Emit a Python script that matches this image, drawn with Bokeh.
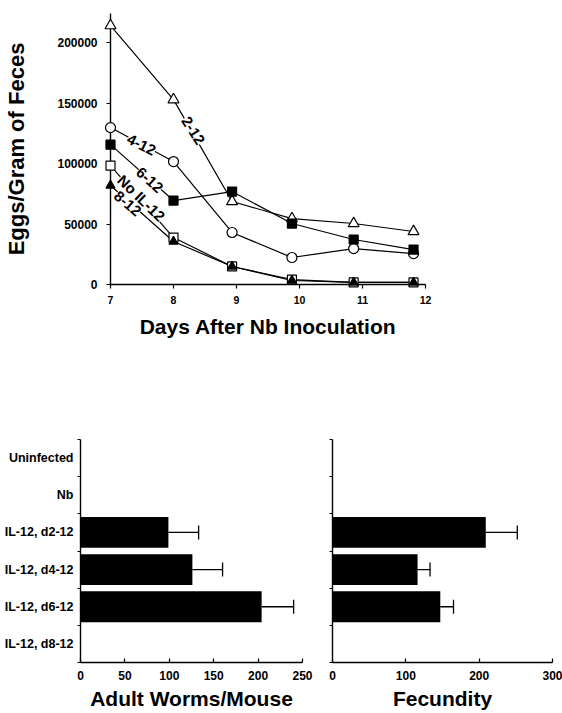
from bokeh.plotting import figure
from bokeh.layouts import column, row
from bokeh.models import (ColumnDataSource, FixedTicker, BasicTickFormatter, Label,
                          Whisker, TeeHead, Range1d)
from bokeh.embed import file_html
from bokeh.resources import INLINE

FONT = "Liberation Sans"

# ---------------- data ----------------
days = [7, 8, 8.93, 9.88, 10.86, 11.81]
eggs_2_12 = [214000, 152800, 68600, 54500, 50400, 43800]
eggs_4_12 = [129700, 101600, 43000, 22300, 29700, 25600]
eggs_6_12 = [115600, 69400, 76800, 50400, 37200, 28900]
eggs_no_il12 = [98300, 38800, 14900, 4100, 1700, 1700]
eggs_8_12 = [81800, 35500, 14900, 3300, 1700, 1700]
series_labels = ["2-12", "4-12", "6-12", "No IL-12", "8-12"]

day_ticks = [7, 8, 9, 10, 11, 12]
egg_ticks = [0, 50000, 100000, 150000, 200000]

groups = ["Uninfected", "Nb", "IL-12, d2-12", "IL-12, d4-12",
          "IL-12, d6-12", "IL-12, d8-12"]
worms = [0, 0, 99, 126, 204, 0]
worms_err = [0, 0, 34, 34, 36, 0]
fecundity = [0, 0, 209, 116, 147, 0]
fecundity_err = [0, 0, 43, 17, 18, 0]
worm_ticks = [0, 50, 100, 150, 200, 250]
fec_ticks = [0, 100, 200, 300]


def style_axis(ax, tick_size, label_size="21px"):
    ax.axis_line_color = "black"
    ax.axis_line_width = 1.4
    ax.major_tick_line_color = "black"
    ax.major_tick_line_width = 1.2
    ax.minor_tick_line_color = None
    ax.major_label_text_font = FONT
    ax.major_label_text_font_style = "bold"
    ax.major_label_text_font_size = tick_size
    ax.major_label_text_color = "black"
    ax.axis_label_text_font = FONT
    ax.axis_label_text_font_style = "bold"
    ax.axis_label_text_font_size = label_size
    ax.axis_label_text_color = "black"


# ---------------- top: eggs per gram ----------------
top = figure(width=562, height=346, x_range=Range1d(7, 12), y_range=Range1d(0, 224000),
             output_backend="svg", toolbar_location=None,
             min_border_left=110, min_border_right=137, min_border_top=13,
             min_border_bottom=62)
top.outline_line_color = None
top.grid.visible = False

xa = top.xaxis[0]
style_axis(xa, "10.5px")
xa.ticker = FixedTicker(ticks=day_ticks)
xa.major_tick_out = 4
xa.major_tick_in = 0
xa.major_label_standoff = 7
xa.axis_label = "Days After Nb Inoculation"
xa.axis_label_standoff = 8

ya = top.yaxis[0]
style_axis(ya, "12px", "22px")
ya.ticker = FixedTicker(ticks=egg_ticks)
ya.formatter = BasicTickFormatter(use_scientific=False)
ya.major_tick_out = 4
ya.major_tick_in = 0
ya.major_label_standoff = 9
ya.axis_label = "Eggs/Gram of Feces"
ya.axis_label_standoff = 25

src = ColumnDataSource(dict(day=days, s2=eggs_2_12, s4=eggs_4_12, s6=eggs_6_12,
                            sn=eggs_no_il12, s8=eggs_8_12))
for col in ["s2", "s4", "s6", "sn", "s8"]:
    top.line("day", col, source=src, line_color="black", line_width=1.2)

top.scatter("day", "s2", source=src, marker="triangle", size=11, fill_color="white",
            line_color="black", line_width=1.2, level="overlay")
top.scatter("day", "s4", source=src, marker="circle", size=10, fill_color="white",
            line_color="black", line_width=1.2, level="overlay")
top.scatter("day", "s6", source=src, marker="square", size=9, fill_color="black",
            line_color="black", line_width=1.2, level="overlay")
top.scatter("day", "sn", source=src, marker="square", size=9, fill_color="white",
            line_color="black", line_width=1.2, level="overlay")
top.scatter("day", "s8", source=src, marker="triangle", size=9, fill_color="black",
            line_color="black", line_width=1.2, level="overlay")

label_pos = [(8.31, 127200, -57), (7.49, 115500, -27), (7.62, 86400, -42),
             (7.49, 71500, -44), (7.27, 66900, -40)]
for txt, (lx, ly, ang) in zip(series_labels, label_pos):
    top.add_layout(Label(x=lx, y=ly, text=txt, angle=ang, angle_units="deg",
                         text_align="center", text_baseline="middle",
                         text_font=FONT, text_font_style="bold", text_font_size="15px",
                         text_color="black", background_fill_color="white"))

# ---------------- bottom panels ----------------
n = len(groups)
ypos = [n - i - 0.5 for i in range(n)]
bounds = list(range(n + 1))


def bar_panel(width, vals, errs, ticks, xmax, xlabel, border_left, border_right, with_labels):
    p = figure(width=width, height=367, x_range=Range1d(0, xmax), y_range=Range1d(0, n),
               output_backend="svg", toolbar_location=None,
               min_border_left=border_left, min_border_right=border_right,
               min_border_top=93, min_border_bottom=51)
    p.outline_line_color = None
    p.grid.visible = False
    bsrc = ColumnDataSource(dict(y=ypos, v=vals))
    p.hbar(y="y", left=0, right="v", height=0.83, source=bsrc,
           fill_color="black", line_color=None)
    idx = [i for i in range(n) if vals[i] > 0]
    wsrc = ColumnDataSource(dict(y=[ypos[i] for i in idx], lo=[vals[i] for i in idx],
                                 up=[vals[i] + errs[i] for i in idx]))
    p.add_layout(Whisker(base="y", lower="lo", upper="up", dimension="width", source=wsrc,
                         line_color="black", line_width=1.3, lower_head=None,
                         upper_head=TeeHead(size=14, line_color="black", line_width=1.3)))
    xa = p.xaxis[0]
    style_axis(xa, "12px")
    xa.ticker = FixedTicker(ticks=ticks)
    xa.major_tick_in = 4
    xa.major_tick_out = 0
    xa.major_label_standoff = 8
    xa.axis_label = xlabel
    xa.axis_label_standoff = 4
    ya = p.yaxis[0]
    style_axis(ya, "12.5px")
    if with_labels:
        ya.ticker = FixedTicker(ticks=ypos, minor_ticks=bounds)
        ya.major_label_overrides = {y: g for y, g in zip(ypos, groups)}
    else:
        ya.ticker = FixedTicker(ticks=[], minor_ticks=bounds)
    ya.major_tick_out = 0
    ya.major_tick_in = 0
    ya.major_label_standoff = 4
    ya.minor_tick_line_color = "black"
    ya.minor_tick_line_width = 1.2
    ya.minor_tick_out = 3
    ya.minor_tick_in = 0
    return p


bl = bar_panel(318, worms, worms_err, worm_ticks, 250, "Adult Worms/Mouse", 80, 16, True)
br = bar_panel(244, fecundity, fecundity_err, fec_ticks, 300, "Fecundity", 14, 10, False)

layout = column(top, row(bl, br))
open("out.html", "w").write(file_html(layout, INLINE))
